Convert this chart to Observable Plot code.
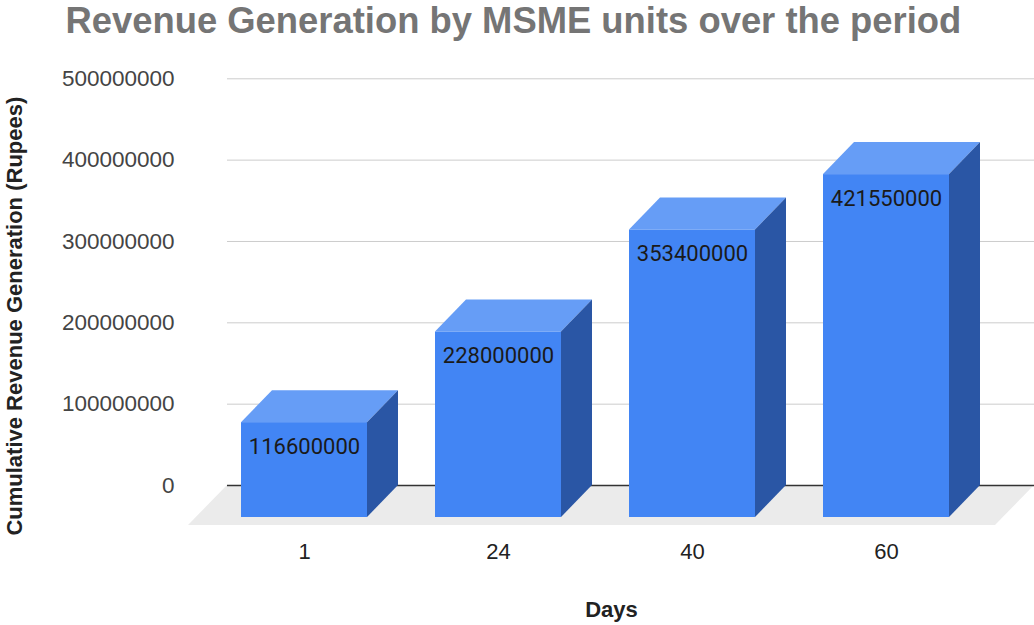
<!DOCTYPE html>
<html><head><meta charset="utf-8">
<script src="https://cdn.jsdelivr.net/npm/d3@7"></script>
<script src="https://cdn.jsdelivr.net/npm/@observablehq/plot@0.6"></script>
<style>body{margin:0;background:#fff}</style>
</head><body><div id="chart"></div>
<script>
const days = ["1", "24", "40", "60"];
const revenue = [116600000, 228000000, 353400000, 421550000];
const yTicks = [0, 100000000, 200000000, 300000000, 400000000, 500000000];
const titleText = "Revenue Generation by MSME units over the period";
const xLabel = "Days";
const yLabel = "Cumulative Revenue Generation (Rupees)";

const data = days.map((d, i) => ({day: d, value: revenue[i]}));
const DX = 31, DY = 32;
const NS = "http://www.w3.org/2000/svg";

function poly(g, pts, fill) {
  const p = document.createElementNS(NS, "polygon");
  p.setAttribute("points", pts.map(q => q.join(",")).join(" "));
  p.setAttribute("fill", fill);
  g.appendChild(p);
}
function bandwidth(scales) {
  if (typeof scales.x.bandwidth === "function") return scales.x.bandwidth();
  return scales.scales.x.bandwidth;
}
function floorMark(index, scales, values, dim) {
  const g = document.createElementNS(NS, "g");
  const y0 = scales.y(0);
  const l = dim.marginLeft, r = dim.width - dim.marginRight;
  poly(g, [[l, y0], [r, y0], [r - 39, y0 + 40], [l - 39, y0 + 40]], "#ebebeb");
  return g;
}
function facesMark(index, scales, values, dim) {
  const g = document.createElementNS(NS, "g");
  const w = bandwidth(scales);
  const yb = scales.y(0);
  for (const d of data) {
    const x0 = scales.x(d.day), x1 = x0 + w, yt = scales.y(d.value);
    poly(g, [[x0, yt], [x1, yt], [x1 - DX, yt + DY], [x0 - DX, yt + DY]], "#669df6");
    poly(g, [[x1, yt], [x1, yb], [x1 - DX, yb + DY], [x1 - DX, yt + DY]], "#2a56a5");
  }
  return g;
}

const chart = Plot.plot({
  width: 1034, height: 625,
  marginLeft: 227, marginRight: 0, marginTop: 78.3, marginBottom: 140,
  style: {fontFamily: "Arial, 'Liberation Sans', sans-serif", background: "#fff", overflow: "visible"},
  x: {type: "band", domain: days, paddingInner: 0.349, paddingOuter: 0.25, align: 0.46, axis: null},
  y: {domain: [0, 500000000], axis: null},
  marks: [
    floorMark,
    Plot.ruleY(yTicks.slice(1), {stroke: "#cccccc", strokeWidth: 1}),
    Plot.ruleY([0], {stroke: "#333333", strokeWidth: 1.3}),
    facesMark,
    Plot.barY(data, {x: "day", y: "value", dx: -DX, dy: DY, fill: "#4285f4"}),
    Plot.text(data, {x: "day", y: "value", text: d => String(d.value), dx: -DX, dy: DY + 24,
      fontSize: 22, fill: "#1a1a1a", fontFamily: "Roboto, Arial, sans-serif"}),
    Plot.axisY({ticks: yTicks, tickSize: 0, tickPadding: 53, fontSize: 22.5, fill: "#444",
      tickFormat: d => String(d), label: null}),
    Plot.axisX({tickSize: 0, tickPadding: 58, dx: -DX, fontSize: 22, fill: "#222", label: null}),
    Plot.text([titleText], {text: d => d, frameAnchor: "top-left", textAnchor: "start", lineAnchor: "middle",
      dx: -162, dy: -57, fontSize: 36.4, fontWeight: "bold", fill: "#757575"}),
    Plot.text([yLabel], {text: d => d, frameAnchor: "left", textAnchor: "middle", lineAnchor: "middle", rotate: -90,
      dx: 14.5 - 227, dy: 34, fontSize: 22, fontWeight: "bold", fill: "#222"}),
    Plot.text([xLabel], {text: d => d, frameAnchor: "bottom", textAnchor: "middle", lineAnchor: "middle",
      dx: -19.5, dy: 124, fontSize: 22, fontWeight: "bold", fill: "#222"})
  ]
});
document.getElementById("chart").appendChild(chart);
</script>
</body></html>
